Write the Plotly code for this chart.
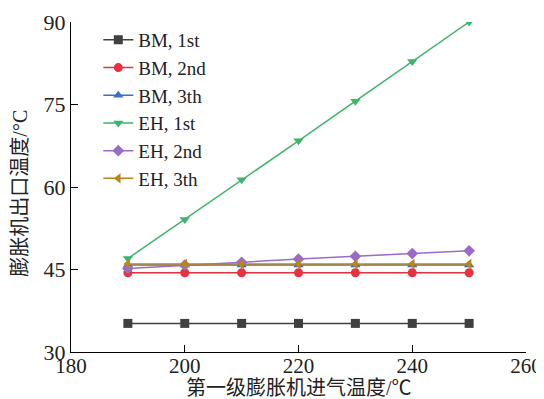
import plotly.graph_objects as go

x_vals = [190, 200, 210, 220, 230, 240, 250]
bm_1st = [35.2, 35.2, 35.2, 35.2, 35.2, 35.2, 35.2]
bm_2nd = [44.4, 44.4, 44.4, 44.4, 44.4, 44.4, 44.4]
bm_3th = [45.8, 45.8, 45.8, 45.8, 45.8, 45.8, 45.8]
eh_1st = [47.0, 54.1, 61.3, 68.4, 75.6, 82.8, 90.0]
eh_2nd = [45.2, 45.8, 46.3, 46.9, 47.4, 47.9, 48.4]
eh_3th = [46.0, 46.0, 46.0, 46.0, 46.0, 46.0, 46.0]

x_title = "第一级膨胀机进气温度/℃"
y_title = "膨胀机出口温度/°C"

series = [
    ("BM, 1st", bm_1st, "#404040", "square"),
    ("BM, 2nd", bm_2nd, "#e8313f", "circle"),
    ("BM, 3th", bm_3th, "#3a6fc8", "triangle-up"),
    ("EH, 1st", eh_1st, "#3db56a", "triangle-down"),
    ("EH, 2nd", eh_2nd, "#9a6cc6", "diamond"),
    ("EH, 3th", eh_3th, "#b8861b", "triangle-left"),
]

fig = go.Figure()
for name, ys, color, sym in series:
    fig.add_trace(go.Scatter(
        x=x_vals, y=ys, name=name, mode="lines+markers",
        line=dict(color=color, width=1.5),
        marker=dict(symbol=sym, size=9, color=color),
    ))

font_fam = "Liberation Serif, Noto Sans CJK SC"
fig.update_layout(
    width=536, height=391,
    margin=dict(l=63, r=18, t=14, b=47, autoexpand=False),
    plot_bgcolor="white", paper_bgcolor="white",
    font=dict(family=font_fam, size=18, color="#222"),
    legend=dict(x=0.06, y=1.003, xanchor="left", yanchor="top",
                bgcolor="rgba(0,0,0,0)", font=dict(size=19),
                tracegroupgap=0),
    showlegend=True,
)
fig.add_annotation(text=x_title, xref="paper", yref="paper", x=0.5, y=-0.108,
                   xanchor="center", yanchor="middle", showarrow=False,
                   font=dict(size=20, family=font_fam, color="#222"))
fig.add_annotation(text=y_title, xref="paper", yref="paper", x=-0.112, y=0.48,
                   xanchor="center", yanchor="middle", showarrow=False, textangle=-90,
                   font=dict(size=20, family=font_fam, color="#222"))
fig.update_xaxes(
    range=[180, 260], tickvals=[180, 200, 220, 240, 260],
    showline=True, linecolor="black", linewidth=1.2,
    ticks="inside", ticklen=7, tickcolor="black",
    showgrid=False, zeroline=False, automargin=False,
    tickfont=dict(size=21), ticklabelstandoff=-5,
)
fig.update_yaxes(
    range=[30, 90], tickvals=[30, 45, 60, 75, 90],
    showline=True, linecolor="black", linewidth=1.2,
    ticks="inside", ticklen=7, tickcolor="black",
    showgrid=False, zeroline=False, automargin=False,
    tickfont=dict(size=22),
)
fig.write_html("out.html")
